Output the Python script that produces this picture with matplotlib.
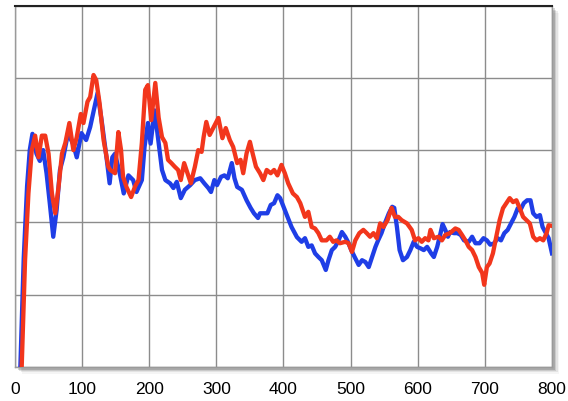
import matplotlib
matplotlib.use("Agg")
import matplotlib.pyplot as plt
from matplotlib.patches import Rectangle

# values (y axis is unlabelled, 0-100 scale)
red_x = [10, 15, 20, 25, 30, 35, 40, 45, 50, 55, 60, 65, 70, 75, 81, 87, 92, 98,
         102, 108, 112, 117, 121, 126, 132, 139, 142, 149, 154, 158, 161, 166,
         173, 179, 184, 189, 194, 198, 203, 209, 214, 219, 224, 228, 233, 238,
         243, 247, 252, 257, 262, 268, 273, 278, 281, 285, 290, 296, 303, 309,
         314, 320, 325, 331, 336, 340, 345, 350, 354, 359, 365, 370, 375, 381,
         386, 391, 397, 402, 407, 414, 420, 425, 432, 437, 442, 447, 452, 457,
         464, 469, 474, 479, 484, 492, 497, 502, 507, 513, 519, 524, 529, 534,
         539, 544, 549, 555, 561, 566, 571, 576, 584, 591, 596, 601, 606, 611,
         616, 619, 624, 631, 636, 641, 648, 656, 661, 666, 671, 676, 681, 686,
         691, 696, 699, 703, 707, 712, 717, 722, 727, 732, 737, 742, 747, 752,
         757, 762, 767, 772, 777, 782, 787, 792, 795, 800]
red_y = [0, 29.5, 48, 60, 64, 58, 64, 64, 59, 48, 42.5, 50, 59, 62, 67.5, 60,
         63.6, 70, 67.5, 73.4, 74.7, 80.8, 79.4, 73, 62.8, 55.4, 54.5, 53.6, 65,
         60, 52.6, 49.8, 47, 50, 51.7, 62, 76.7, 78, 68.3, 78.6, 69, 63.6, 62,
         57.3, 56.4, 55.4, 54.5, 51.7, 56.4, 53.6, 50.8, 55.4, 60, 59.5, 63.6,
         67.8, 64.2, 66.4, 68.9, 63.3, 66.1, 62.8, 60.9, 56.4, 57.3, 53.6, 59.1,
         62.3, 59.1, 55.4, 53.6, 51.7, 54.5, 53.6, 54.5, 53, 55.9, 53.6, 50.8,
         48, 47, 45.3, 41.5, 42.9, 38.7, 38.3, 37, 35, 35, 36, 34.6, 35, 34.2,
         34.6, 34.2, 31.8, 35, 37, 37.9, 37, 36, 37, 35.6, 39.7, 38.7, 40.6, 44,
         41.5, 41.5, 40.6, 39.7, 37.9, 35, 35.6, 34.6, 35.6, 35, 37.9, 35.6, 36,
         35, 36.5, 37, 38.3, 37.9, 36.5, 35, 33.2, 32.3, 30.4, 27.6, 26, 22.7,
         27.6, 28.6, 31.4, 36, 40.6, 43.9, 45.3, 46.7, 45.6, 46.1, 43.9, 41.5,
         40.6, 39.7, 36, 35, 35.6, 35, 37, 39.2, 39]

blue_x = [8, 13, 18, 22, 26, 32, 37, 42, 47, 52, 57, 62, 67, 72, 79, 87, 92,
          99, 106, 112, 123, 129, 137, 141, 145, 149, 156, 162, 169, 176, 181,
          189, 193, 198, 202, 208, 213, 219, 224, 231, 236, 241, 247, 253, 261,
          268, 276, 282, 288, 292, 297, 301, 307, 312, 317, 323, 327, 331, 338,
          345, 351, 356, 362, 365, 371, 376, 381, 386, 391, 395, 400, 406, 412,
          420, 427, 432, 437, 442, 447, 452, 457, 463, 467, 472, 477, 482, 487,
          492, 496, 501, 506, 512, 517, 522, 527, 532, 537, 541, 546, 551, 557,
          562, 565, 569, 573, 578, 584, 589, 594, 599, 604, 609, 614, 620, 624,
          629, 634, 637, 641, 645, 648, 654, 659, 664, 669, 676, 681, 686, 692,
          698, 703, 708, 714, 719, 724, 729, 734, 739, 744, 749, 753, 758, 763,
          768, 772, 777, 782, 786, 790, 795, 800]
blue_y = [0, 30, 50, 60, 64.5, 59, 57, 60, 53.6, 45, 36, 43.4, 54.5, 58, 64.7,
          61.5, 58, 64.7, 62.8, 66.4, 75.8, 68.3, 57, 50.8, 58, 59, 53.6, 48,
          53, 51.7, 48.4, 51.7, 60.9, 67.5, 61.8, 71, 63.6, 54.5, 51.7, 50.8,
          49.5, 51.2, 46.7, 49, 50.3, 51.7, 52.2, 50.8, 49.5, 48.4, 51.7, 50.3,
          52.6, 53, 52.2, 56.4, 52.2, 49.8, 49, 46.1, 44, 42.5, 41.2, 42.5, 42.5,
          42.5, 44.8, 45.3, 47.5, 46.7, 44.3, 41.5, 38.7, 35.9, 34.6, 35.6, 33.2,
          33.6, 31.4, 30.4, 29.5, 26.8, 29.5, 32.3, 33.2, 35, 37.3, 36, 34.6,
          32.3, 30.4, 28.2, 29.5, 29, 27.6, 30.4, 33.2, 35, 37, 39.7, 42.5, 44.3,
          44, 38.7, 32.3, 29.5, 30.4, 32.3, 34.6, 33.2, 32.8, 32.3, 33.2, 31.4,
          30.4, 33.2, 37, 39.5, 37.9, 36, 37.3, 37, 37, 36.5, 35, 34.6, 36, 34.2,
          34.2, 35.6, 35, 33.8, 34.2, 35.6, 35, 37, 37.9, 39.7, 41.5, 43.9, 43.4,
          45.3, 46.1, 46.1, 42.5, 41.5, 42, 38.7, 37.3, 35.6, 31.4]

x_ticks = [0, 100, 200, 300, 400, 500, 600, 700, 800]

W, H = 568, 401
box = [0.0264, 0.0855, 0.9454, 0.9003]

fig = plt.figure(figsize=(W / 100, H / 100), dpi=100)
ax = fig.add_axes(box)

# soft drop shadow on right and bottom edges (about 7 px)
for i, a in enumerate([0.22, 0.16, 0.11, 0.07, 0.04]):
    off = (i + 1) * 1.4
    fig.patches.append(Rectangle((box[0] + off / W, box[1] - off / H), box[2], box[3],
                                 transform=fig.transFigure, color="black",
                                 alpha=a, zorder=-10 - i, lw=0))
fig.patches.append(Rectangle((box[0], box[1]), box[2], box[3],
                             transform=fig.transFigure, color="white", zorder=-5, lw=0))

ax.plot(blue_x, blue_y, color="#1f3ee6", lw=3.1, solid_joinstyle="round", zorder=3)
ax.plot(red_x, red_y, color="#f2361c", lw=3.1, solid_joinstyle="round", zorder=4)

ax.set_xlim(0, 800)
ax.set_ylim(0, 100)
ax.set_xticks(x_ticks)
ax.set_yticks([0, 20, 40, 60, 80, 100])
ax.set_yticklabels([])
ax.tick_params(axis="both", length=0)
ax.tick_params(axis="x", pad=11, labelsize=12.5)
for lbl in ax.get_xticklabels():
    lbl.set_fontfamily("Liberation Sans")
ax.grid(True, color="#8c8c8c", lw=1.0)
ax.set_axisbelow(True)

for side in ["left", "right", "bottom"]:
    ax.spines[side].set_color("#9a9a9a")
    ax.spines[side].set_linewidth(1.0)
ax.spines["top"].set_color("#222222")
ax.spines["top"].set_linewidth(1.5)

fig.savefig("out.png", dpi=100)
